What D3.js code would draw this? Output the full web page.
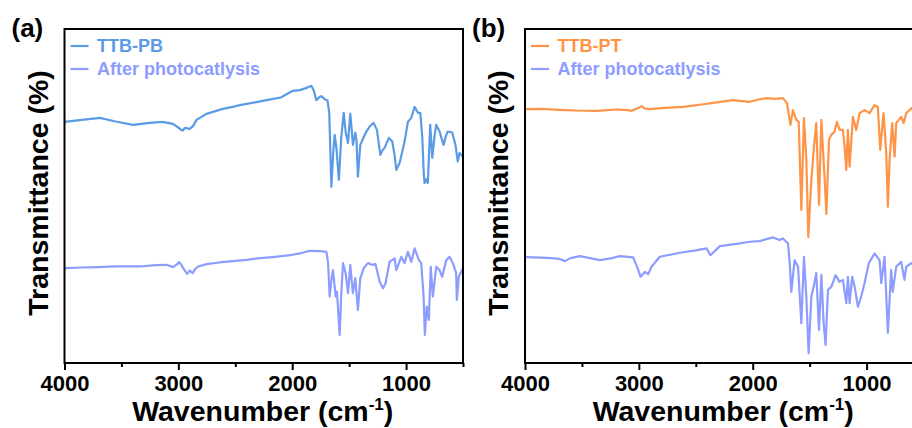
<!DOCTYPE html>
<html lang="en">
  <head>
    <meta charset="utf-8">
    <title>FTIR spectra</title>
    <style>
      body { margin: 0; background: #fff; }
      svg { display: block; font-family: "Liberation Sans", Arial, sans-serif; }
      .tick text { font-weight: bold; }
    </style>
    <script src="https://d3js.org/d3.v7.min.js"></script>
  </head>
  <body>
    <script>
    // wavenumber (cm-1), transmittance (%, offset stacked)
    const ttbPB = [[4000,72.2],[3850,72.8],[3690,73.4],[3550,72.3],[3400,71.3],[3250,71.9],[3140,72.2],[3048,71.6],[3000,70.5],[2975,69.8],[2960,69.6],[2943,70.4],[2900,70.1],[2870,71.0],[2840,72.8],[2811,73.4],[2753,74.6],[2610,76.1],[2522,76.7],[2460,77.2],[2303,78.2],[2226,78.7],[2100,79.5],[1995,81.5],[1934,81.7],[1880,82.3],[1832,83.0],[1810,81.5],[1788,78.7],[1765,79.5],[1744,79.9],[1715,79.0],[1690,78.6],[1675,75],[1656,52.8],[1640,63],[1627,68.3],[1612,64.4],[1590,54.8],[1570,67],[1548,74.9],[1530,69],[1510,65.9],[1490,74.6],[1478,70],[1467,65.3],[1446,69.0],[1435,66.5],[1423,55.8],[1402,65.3],[1380,67],[1349,69.3],[1320,70.8],[1285,71.9],[1256,69.8],[1226,62.3],[1210,63.5],[1189,64.4],[1151,67.4],[1121,66.3],[1100,62],[1086,57.8],[1057,59.9],[1035,63],[1013,66.3],[984,72.2],[954,73.4],[925,76.7],[896,74.9],[875,74.9],[858,67.8],[845,57],[838,53.9],[825,55],[809,53.9],[788,71.3],[770,61.4],[750,68],[735,71.3],[706,69.3],[671,65.3],[650,68],[633,69.3],[595,69.0],[566,65.3],[546,60.3],[531,62.9],[500,61.8]];

    const afterPB = [[4000,28.4],[3850,28.6],[3700,28.7],[3550,28.9],[3338,28.9],[3200,29.3],[3104,29.4],[3046,28.7],[3010,29.6],[2993,30.2],[2975,29.5],[2958,28.4],[2923,26.7],[2899,27.7],[2875,26.9],[2850,28.2],[2826,28.9],[2753,29.6],[2640,30.1],[2522,30.5],[2400,30.9],[2303,31.3],[2150,31.8],[2000,32.4],[1934,32.8],[1846,33.6],[1760,33.5],[1700,33.3],[1685,30],[1671,19.9],[1655,25],[1642,27.8],[1618,19.9],[1607,21.3],[1583,8.4],[1570,20],[1554,29.9],[1531,26.9],[1510,20.9],[1490,29.3],[1467,20.9],[1446,25.4],[1423,15.9],[1402,25.4],[1370,28.5],[1335,29.9],[1300,29.4],[1268,29.6],[1232,24.3],[1203,22.4],[1180,23.9],[1145,30.3],[1101,31.3],[1086,27.8],[1042,31.8],[1013,29.9],[984,33.3],[954,30.3],[925,34.3],[887,30.8],[867,29.9],[846,19.9],[835,8.4],[818,16.9],[800,12.9],[783,28.8],[765,19.9],[735,28.8],[706,27.8],[683,25.8],[647,30.8],[618,31.8],[589,29.9],[560,26.9],[554,18.9],[537,25.8],[500,28.4]];

    const ttbPT = [[4000,76.0],[3850,76.1],[3700,75.8],[3550,75.6],[3371,75.5],[3200,75.9],[3100,75.7],[3064,75.5],[3000,76.4],[2977,76.9],[2950,76.2],[2904,76.0],[2800,76.3],[2611,76.7],[2450,77.4],[2300,78.1],[2173,78.7],[2026,78.2],[1950,78.9],[1880,79.3],[1800,79.1],[1734,79.3],[1699,77.8],[1669,71.3],[1646,75.7],[1617,72.8],[1596,72.2],[1573,45.8],[1550,73.3],[1529,60.8],[1512,37.7],[1485,54.8],[1462,64.8],[1442,71.8],[1418,47.3],[1397,72.8],[1368,54.8],[1353,44.6],[1330,66.8],[1310,68.3],[1281,69.3],[1260,72.2],[1237,69.8],[1208,69.8],[1193,64.8],[1178,57.8],[1164,69.8],[1149,58.8],[1120,73.7],[1091,69.8],[1061,74.8],[1018,75.7],[974,74.8],[930,77.2],[901,76.7],[880,63.8],[851,74.8],[827,62.8],[813,46.8],[798,60.8],[775,71.8],[754,61.8],[740,71.8],[696,73.7],[675,71.8],[652,74.8],[608,76.3],[560,75],[500,74]];

    const afterPT = [[4000,31.7],[3800,31.5],[3700,31.2],[3650,30.5],[3600,31.4],[3518,32.0],[3342,30.8],[3250,31.3],[3167,32.0],[3050,31.6],[3015,28.8],[2985,25.8],[2947,27.3],[2918,26.6],[2889,28.8],[2816,31.8],[2640,33.0],[2500,33.7],[2406,34.3],[2371,32.3],[2348,33.0],[2289,35.0],[2114,35.8],[2026,36.3],[1939,36.5],[1822,37.6],[1763,36.8],[1734,37.3],[1690,35.8],[1675,29.9],[1661,21.3],[1632,30.8],[1602,28.8],[1573,11.9],[1550,31.8],[1529,19.9],[1509,2.9],[1485,19.9],[1465,22.8],[1442,26.9],[1418,9.9],[1397,26.3],[1377,11.9],[1360,5.4],[1339,21.9],[1310,22.8],[1272,26.3],[1237,24.3],[1208,24.9],[1178,17.9],[1164,25.8],[1149,17.9],[1126,25.8],[1105,22.8],[1076,16.9],[1047,19.9],[1018,23.9],[980,29.9],[930,32.8],[886,30.8],[871,23.9],[842,31.8],[813,9.0],[784,27.8],[770,21.3],[740,28.8],[696,30.3],[667,24.9],[652,28.8],[608,29.9],[560,29],[500,28]];

    const majorTicks = [4000, 3000, 2000, 1000];
    const minorTicks = [3500, 2500, 1500, 500];

    const panels = [
      { label: "(a)", left: 64.5, series: [
          { name: "TTB-PB", data: ttbPB, color: "#5b9be6" },
          { name: "After photocatlysis", data: afterPB, color: "#8c9cff" }] },
      { label: "(b)", left: 525, series: [
          { name: "TTB-PT", data: ttbPT, color: "#ff9447" },
          { name: "After photocatlysis", data: afterPT, color: "#8c9cff" }] }
    ];

    const width = 912, height = 428;
    const plotW = 398.5, plotTop = 29, plotBottom = 363;

    const svg = d3.select("body")
      .append("svg")
      .attr("width", width)
      .attr("height", height);

    const y = d3.scaleLinear().domain([0, 100]).range([plotBottom, plotTop]);

    panels.forEach((p, i) => {
      const x = d3.scaleLinear().domain([4000, 500]).range([p.left, p.left + plotW]);
      const g = svg.append("g");

      g.append("clipPath").attr("id", "clip" + i)
        .append("rect")
        .attr("x", p.left).attr("y", plotTop)
        .attr("width", plotW).attr("height", plotBottom - plotTop);

      const line = d3.line().x(d => x(d[0])).y(d => y(d[1]));

      p.series.forEach(s => {
        g.append("path")
          .datum(s.data)
          .attr("clip-path", `url(#clip${i})`)
          .attr("fill", "none")
          .attr("stroke", s.color)
          .attr("stroke-width", 2.2)
          .attr("stroke-linejoin", "round")
          .attr("d", line);
      });

      // frame
      g.append("rect")
        .attr("x", p.left).attr("y", plotTop)
        .attr("width", plotW).attr("height", plotBottom - plotTop)
        .attr("fill", "none")
        .attr("stroke", "#000")
        .attr("stroke-width", 2);

      g.append("g")
        .attr("transform", `translate(0,${plotBottom})`)
        .call(d3.axisBottom(x).tickValues(minorTicks).tickSize(4).tickFormat(""))
        .call(a => a.select(".domain").remove())
        .call(a => a.selectAll("line").attr("stroke-width", 2));

      g.append("g")
        .attr("transform", `translate(0,${plotBottom})`)
        .call(d3.axisBottom(x).tickValues(majorTicks).tickSize(7).tickPadding(5).tickFormat(d3.format("d")))
        .call(a => a.select(".domain").remove())
        .call(a => a.selectAll("line").attr("stroke-width", 2))
        .call(a => a.selectAll("text").attr("font-size", 22).attr("fill", "#000")
          .attr("font-family", "Liberation Sans, Arial, sans-serif"));

      // axis titles
      const xt = g.append("text")
        .attr("x", p.left + plotW / 2 - 1)
        .attr("y", 421)
        .attr("text-anchor", "middle")
        .attr("font-size", 28.5)
        .attr("font-weight", "bold")
        .text("Wavenumber (cm");
      xt.append("tspan").attr("font-size", 17).attr("dy", -11).text("-1");
      xt.append("tspan").attr("dy", 11).text(")");

      g.append("text")
        .attr("transform", `translate(${p.left - 17},${(plotTop + plotBottom) / 2 - 3}) rotate(-90)`)
        .attr("text-anchor", "middle")
        .attr("font-size", 28.5)
        .attr("font-weight", "bold")
        .text("Transmittance (%)");

      g.append("text")
        .attr("x", p.left - 53)
        .attr("y", 37)
        .attr("font-size", 26)
        .attr("font-weight", "bold")
        .text(p.label);

      // legend
      const lg = g.selectAll(".leg")
        .data(p.series)
        .join("g")
        .attr("transform", (d, k) => `translate(${p.left + 6},${46 + k * 23})`);
      lg.append("line")
        .attr("x1", 0).attr("x2", 18)
        .attr("stroke", d => d.color)
        .attr("stroke-width", 2.2);
      lg.append("text")
        .attr("x", 26.5).attr("y", 6)
        .attr("font-size", 18)
        .attr("font-weight", "bold")
        .attr("fill", d => d.color)
        .text(d => d.name);
    });
    </script>
  </body>
</html>
